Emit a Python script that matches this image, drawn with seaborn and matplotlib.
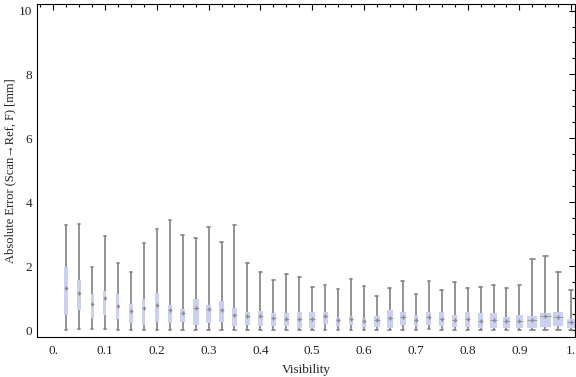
import numpy as np
import pandas as pd
import seaborn as sns
import matplotlib.pyplot as plt
from matplotlib.ticker import MultipleLocator, FuncFormatter

# visibility bins (box positions)
visibility = [0.025, 0.05, 0.075, 0.1, 0.125, 0.15, 0.175, 0.2, 0.225, 0.25,
              0.275, 0.3, 0.325, 0.35, 0.375, 0.4, 0.425, 0.45, 0.475, 0.5,
              0.525, 0.55, 0.575, 0.6, 0.625, 0.65, 0.675, 0.7, 0.725, 0.75,
              0.775, 0.8, 0.825, 0.85, 0.875, 0.9, 0.925, 0.95, 0.975, 1.0]

# five-number summaries
err_min = [0.0, 0.02, 0.02, 0.02, 0.0, 0.0, 0.0, 0.0, 0.0, 0.0,
           0.0, 0.0, 0.0, 0.0, 0.0, 0.0, 0.0, 0.0, 0.0, 0.0,
           0.0, 0.0, 0.0, 0.0, 0.0, 0.0, 0.0, 0.0, 0.02, 0.0,
           0.0, 0.0, 0.0, 0.0, 0.0, 0.0, 0.0, 0.0, 0.0, 0.0]
err_q1 = [0.47, 0.63, 0.39, 0.47, 0.36, 0.23, 0.17, 0.26, 0.23, 0.26,
          0.17, 0.23, 0.26, 0.13, 0.17, 0.14, 0.14, 0.14, 0.07, 0.07,
          0.20, 0.14, 0.17, 0.10, 0.10, 0.07, 0.17, 0.14, 0.17, 0.14,
          0.10, 0.10, 0.07, 0.07, 0.07, 0.07, 0.07, 0.10, 0.14, 0.07]
err_med = [1.31, 1.15, 0.80, 0.99, 0.76, 0.60, 0.68, 0.78, 0.63, 0.54,
           0.70, 0.67, 0.64, 0.47, 0.43, 0.43, 0.38, 0.34, 0.34, 0.34,
           0.44, 0.32, 0.34, 0.29, 0.31, 0.38, 0.41, 0.32, 0.40, 0.34,
           0.31, 0.34, 0.29, 0.31, 0.28, 0.28, 0.31, 0.43, 0.41, 0.24]
err_q3 = [1.96, 1.57, 1.13, 1.22, 1.13, 0.82, 0.96, 1.15, 0.77, 0.65,
          0.97, 0.78, 0.91, 0.69, 0.55, 0.59, 0.52, 0.52, 0.55, 0.55,
          0.56, 0.41, 0.44, 0.38, 0.44, 0.63, 0.56, 0.47, 0.56, 0.56,
          0.47, 0.56, 0.52, 0.53, 0.41, 0.47, 0.44, 0.53, 0.56, 0.34]
err_max = [3.28, 3.31, 1.97, 2.93, 2.09, 1.81, 2.73, 3.16, 3.44, 2.97,
           2.89, 3.22, 2.76, 3.28, 2.09, 1.81, 1.56, 1.75, 1.65, 1.34,
           1.40, 1.28, 1.59, 1.37, 1.06, 1.31, 1.53, 1.12, 1.53, 1.24,
           1.49, 1.31, 1.34, 1.40, 1.31, 1.40, 2.21, 2.31, 1.81, 1.24]

# apparent box widths in pixels
box_px = [3.7, 4, 3, 3, 3, 4.3, 3.3, 4, 4, 5,
          6, 5, 5, 5.3, 5, 5.5, 5, 5, 5.5, 5.5,
          5, 4.5, 4, 4, 6, 6, 6, 4, 5, 5,
          5, 5.7, 5, 7, 7, 7, 10, 10.5, 10, 9]

rows = []
for v, a, b, c, d, e in zip(visibility, err_min, err_q1, err_med, err_q3, err_max):
    for val in (a, b, c, d, e):
        rows.append({"visibility": v, "error": val})
df = pd.DataFrame(rows)

sns.set_style("white")
plt.rcParams["font.family"] = ["Liberation Serif", "DejaVu Serif"]

fig = plt.figure(figsize=(5.76, 3.77), dpi=100)
ax = fig.add_axes([0.064, 0.106, 0.934, 0.883])

px_per_unit = 518.0
box_color = "#c9d0f4"
line_color = "#808080"

for i, v in enumerate(visibility):
    sub = df[df["visibility"] == v]
    sns.boxplot(data=sub, x="visibility", y="error", native_scale=True,
                width=box_px[i] / px_per_unit, whis=(0, 100), ax=ax,
                color=box_color, linecolor=line_color, linewidth=1.2,
                boxprops=dict(facecolor=box_color, edgecolor="none"),
                whiskerprops=dict(color=line_color, linewidth=1.2),
                capprops=dict(color=line_color, linewidth=1.2),
                medianprops=dict(color="#9a9a9a", linewidth=0.7))

sns.scatterplot(x=visibility, y=err_med, marker="d", s=7, color="#8c8c8c",
                linewidth=0, ax=ax, zorder=5)

ax.set_xlim(-0.0315, 1.007)
ax.set_ylim(-0.22, 10.2)
ax.xaxis.set_major_locator(MultipleLocator(0.1))
ax.xaxis.set_minor_locator(MultipleLocator(0.025))
ax.yaxis.set_major_locator(MultipleLocator(2))
ax.yaxis.set_minor_locator(MultipleLocator(0.5))


def fmt_x(x, pos):
    s = "%.1f" % x
    if s.endswith(".0"):
        s = s[:-1]
    return s


ax.xaxis.set_major_formatter(FuncFormatter(fmt_x))
ax.yaxis.set_major_formatter(FuncFormatter(lambda y, pos: "%d" % y))

ax.tick_params(which="both", direction="in", top=True, right=True,
               labelsize=9.5, colors="black", labelcolor="#222222", width=0.8)
ax.tick_params(which="major", length=4)
ax.tick_params(which="minor", length=2.2)
ax.tick_params(axis="x", pad=6)

for s in ax.spines.values():
    s.set_color("black")
    s.set_linewidth(0.8)

ax.set_xlabel("Visibility", fontsize=9.5, color="#222222", labelpad=5)
ax.set_ylabel("Absolute Error (Scan\u2192Ref, F) [mm]", fontsize=9,
              color="#222222", labelpad=2)

fig.savefig("out.png", dpi=100)
